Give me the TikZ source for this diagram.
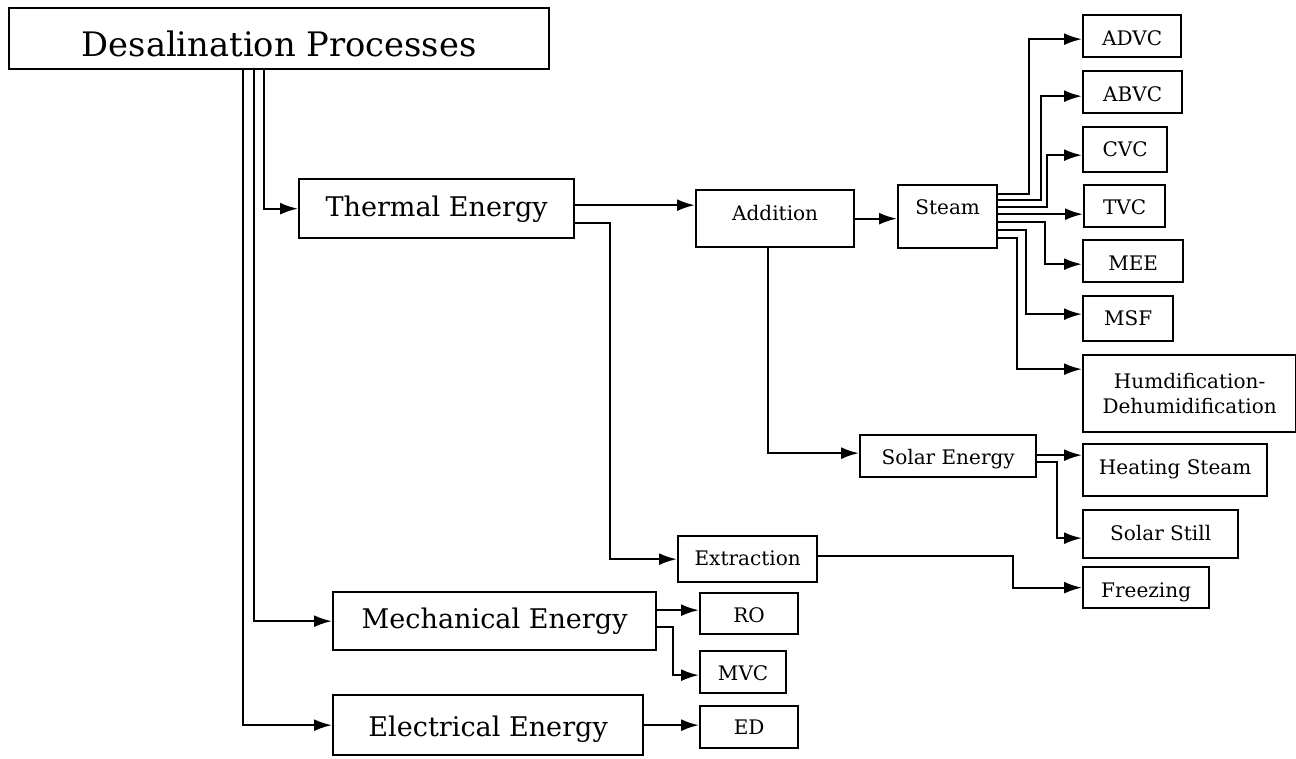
\documentclass[tikz,border=0pt]{standalone}
\usepackage{fontspec}
\usetikzlibrary{arrows.meta}
\newfontfamily\dvs{DejaVu Serif}
\tikzset{
  bx/.style={draw, line width=0.65pt, inner sep=0pt, anchor=north west, align=center},
  bigt/.style={font=\dvs\fontsize{9.6}{11}\selectfont},
  medt/.style={font=\dvs\fontsize{7.7}{9}\selectfont},
  smt/.style={font=\dvs\fontsize{5.7}{7.11}\selectfont},
  arr/.style={line width=0.65pt, -{Latex[length=0.18cm,width=0.12cm]}},
}
\begin{document}
\begin{tikzpicture}
\useasboundingbox (0,0) rectangle (12.96,-7.58);
% main boxes
\node[bx,bigt,minimum width=5.40cm,text height=0.48cm,text depth=0.13cm] (title) at (0.08,-0.07) {Desalination Processes};
\node[bx,medt,minimum width=2.75cm,text height=0.37cm,text depth=0.22cm] (thermal) at (2.98,-1.78) {Thermal Energy};
\node[bx,medt,minimum width=3.23cm,text height=0.36cm,text depth=0.22cm] (mech) at (3.32,-5.91) {Mechanical Energy};
\node[bx,medt,minimum width=3.10cm,text height=0.41cm,text depth=0.19cm] (elec) at (3.32,-6.94) {Electrical Energy};
% small boxes
\node[bx,smt,minimum width=1.58cm,text height=0.30cm,text depth=0.27cm] (addition) at (6.95,-1.89) {Addition};
\node[bx,smt,minimum width=0.99cm,text height=0.29cm,text depth=0.34cm] (steam) at (8.97,-1.84) {Steam};
\node[bx,smt,minimum width=0.98cm,text height=0.30cm,text depth=0.12cm] (advc) at (10.82,-0.14) {ADVC};
\node[bx,smt,minimum width=0.99cm,text height=0.30cm,text depth=0.12cm] (abvc) at (10.82,-0.70) {ABVC};
\node[bx,smt,minimum width=0.84cm,text height=0.29cm,text depth=0.16cm] (cvc) at (10.82,-1.26) {CVC};
\node[bx,smt,minimum width=0.81cm,text height=0.29cm,text depth=0.13cm] (tvc) at (10.83,-1.84) {TVC};
\node[bx,smt,minimum width=1.00cm,text height=0.30cm,text depth=0.12cm] (mee) at (10.82,-2.39) {MEE};
\node[bx,smt,minimum width=0.90cm,text height=0.29cm,text depth=0.16cm] (msf) at (10.82,-2.95) {MSF};
\node[bx,smt,minimum width=2.13cm,minimum height=0.77cm] (humdif) at (10.82,-3.54) {Humdification-\\Dehumidification};
\node[bx,smt,minimum width=1.76cm,text height=0.29cm,text depth=0.13cm] (solar) at (8.59,-4.34) {Solar Energy};
\node[bx,smt,minimum width=1.84cm,text height=0.30cm,text depth=0.22cm] (heat) at (10.82,-4.43) {Heating Steam};
\node[bx,smt,minimum width=1.55cm,text height=0.30cm,text depth=0.18cm] (still) at (10.82,-5.09) {Solar Still};
\node[bx,smt,minimum width=1.26cm,text height=0.30cm,text depth=0.11cm] (freeze) at (10.82,-5.66) {Freezing};
\node[bx,smt,minimum width=1.39cm,text height=0.29cm,text depth=0.17cm] (extraction) at (6.77,-5.35) {Extraction};
\node[bx,smt,minimum width=0.98cm,text height=0.29cm,text depth=0.12cm] (ro) at (6.99,-5.92) {RO};
\node[bx,smt,minimum width=0.86cm,text height=0.29cm,text depth=0.13cm] (mvc) at (6.99,-6.50) {MVC};
\node[bx,smt,minimum width=0.98cm,text height=0.28cm,text depth=0.14cm] (ed) at (6.99,-7.05) {ED};
% from title
\draw[arr] (title.south west) ++(2.56,0) |- (thermal.west);
\draw[arr] (title.south west) ++(2.46,0) |- (mech.west);
\draw[arr] (title.south west) ++(2.35,0) |- (elec.west);
% from thermal
\coordinate (t1) at ([yshift=0.035cm]thermal.east);
\draw[arr] (t1) -- (t1 -| addition.west);
\draw[arr] ([yshift=-0.145cm]thermal.east) -- ++(0.35,0) |- (extraction.west);
% from addition
\draw[arr] (addition.east) -- (addition.east -| steam.west);
\draw[arr] ([xshift=-0.07cm]addition.south) |- ([yshift=0.03cm]solar.west);
% steam fan
\draw[arr] ([yshift=0.225cm]steam.east) -- ++(0.31,0) |- ([yshift=-0.03cm]advc.west);
\draw[arr] ([yshift=0.165cm]steam.east) -- ++(0.43,0) |- ([yshift=-0.04cm]abvc.west);
\draw[arr] ([yshift=0.095cm]steam.east) -- ++(0.49,0) |- ([yshift=-0.055cm]cvc.west);
\coordinate (s4) at ([yshift=0.025cm]steam.east);
\draw[arr] (s4) -- (s4 -| tvc.west);
\draw[arr] ([yshift=-0.055cm]steam.east) -- ++(0.47,0) |- ([yshift=-0.03cm]mee.west);
\draw[arr] ([yshift=-0.135cm]steam.east) -- ++(0.28,0) |- ([yshift=0.045cm]msf.west);
\draw[arr] ([yshift=-0.215cm]steam.east) -- ++(0.19,0) |- ([yshift=0.245cm]humdif.west);
% solar fan
\coordinate (se1) at ([yshift=0.01cm]solar.east);
\draw[arr] (se1) -- (se1 -| heat.west);
\draw[arr] ([yshift=-0.06cm]solar.east) -- ++(0.20,0) |- ([yshift=-0.04cm]still.west);
% extraction
\draw[arr] ([yshift=0.03cm]extraction.east) -- ++(1.95,0) |- (freeze.west);
% mechanical
\coordinate (m1) at ([yshift=0.11cm]mech.east);
\draw[arr] (m1) -- (m1 -| ro.west);
\draw[arr] ([yshift=-0.06cm]mech.east) -- ++(0.16,0) |- ([yshift=-0.03cm]mvc.west);
% electrical
\draw[arr] (elec.east) -- (elec.east -| ed.west);
\end{tikzpicture}
\end{document}
